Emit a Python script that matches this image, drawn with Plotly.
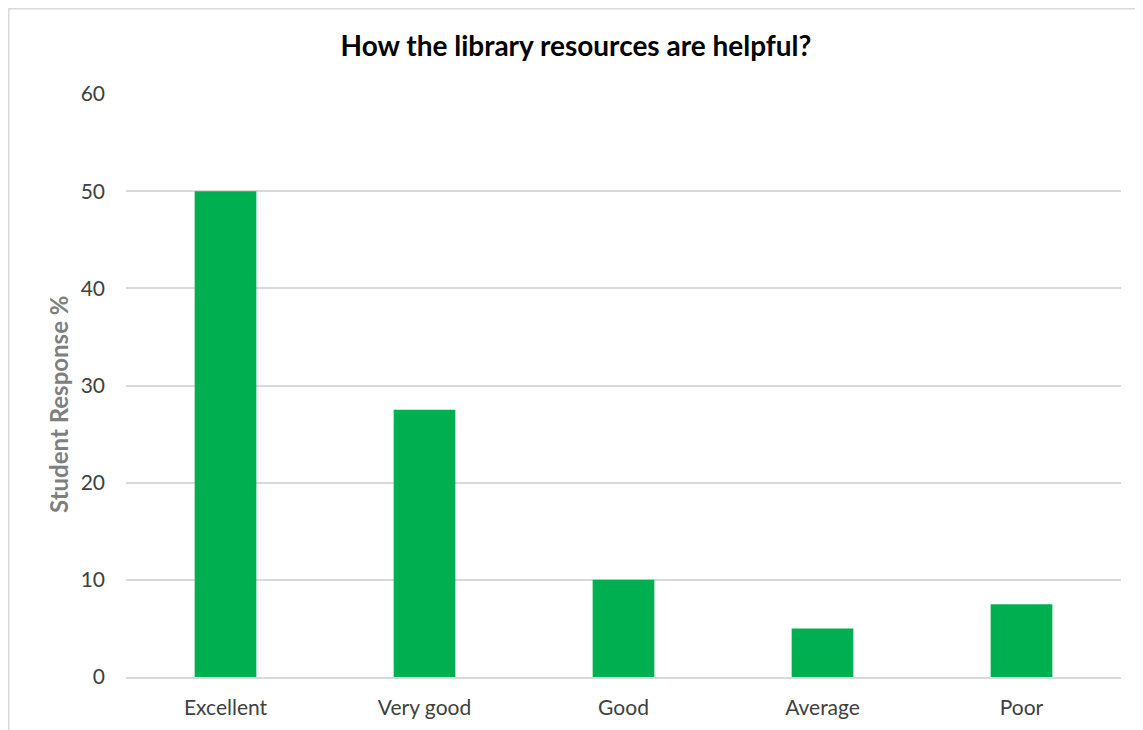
import plotly.graph_objects as go

categories = ["Excellent", "Very good", "Good", "Average", "Poor"]
values = [50, 27.5, 10, 5, 7.5]
y_ticks = [0, 10, 20, 30, 40, 50, 60]

# page body has an 8px default margin; compensate so the plot lands where the reference has it
OFF = 8
W, H = 1143, 730
ml, mt = 126 - OFF, 94 - OFF
pw, ph = 995, 583
mr = W - ml - pw
mb = H - mt - ph

fig = go.Figure(go.Bar(x=categories, y=values, marker_color="#00b050",
                       width=0.31, marker_line_width=0))

fig.update_layout(
    width=W, height=H,
    margin=dict(l=ml, r=mr, t=mt, b=mb),
    plot_bgcolor="white", paper_bgcolor="white",
    font=dict(family="Lato, Open Sans, sans-serif", color="#404040", size=20),
    title=dict(text="<b>How the library resources are helpful?</b>", x=(576 - OFF) / W,
               xanchor="center", y=1 - (46 - OFF) / H, yanchor="middle",
               font=dict(size=28, color="#000000")),
    showlegend=False,
)
fig.update_yaxes(range=[0, 60], tickvals=y_ticks, showgrid=True, gridcolor="#d9d9d9",
                 gridwidth=1.5, zeroline=False, showline=False, ticks="",
                 ticklabelstandoff=20,
                 tickfont=dict(size=21, color="#404040"))
fig.update_xaxes(showline=True, linecolor="#d9d9d9", linewidth=1.5, ticks="",
                 tickfont=dict(size=21, color="#404040"), ticklabelstandoff=11)

# y-axis title (placed like the reference, slightly below plot centre)
fig.add_annotation(text="<b>Student Response %</b>", textangle=-90, showarrow=False,
                   xref="paper", yref="paper",
                   x=(58 - OFF - ml) / pw, y=1 - (405 - OFF - mt) / ph,
                   xanchor="center", yanchor="middle",
                   font=dict(size=24, color="#7f7f7f"))

# outer chart border (partially cropped in the reference)
fig.add_shape(type="rect", xref="paper", yref="paper",
              x0=(0.5 - ml) / pw, x1=(W + 20 - ml) / pw,
              y0=-(H + 20 - mt - ph) / ph, y1=1 + (mt - 0.5) / ph,
              line=dict(color="#d9d9d9", width=2), layer="below")

fig.write_html("out.html")
